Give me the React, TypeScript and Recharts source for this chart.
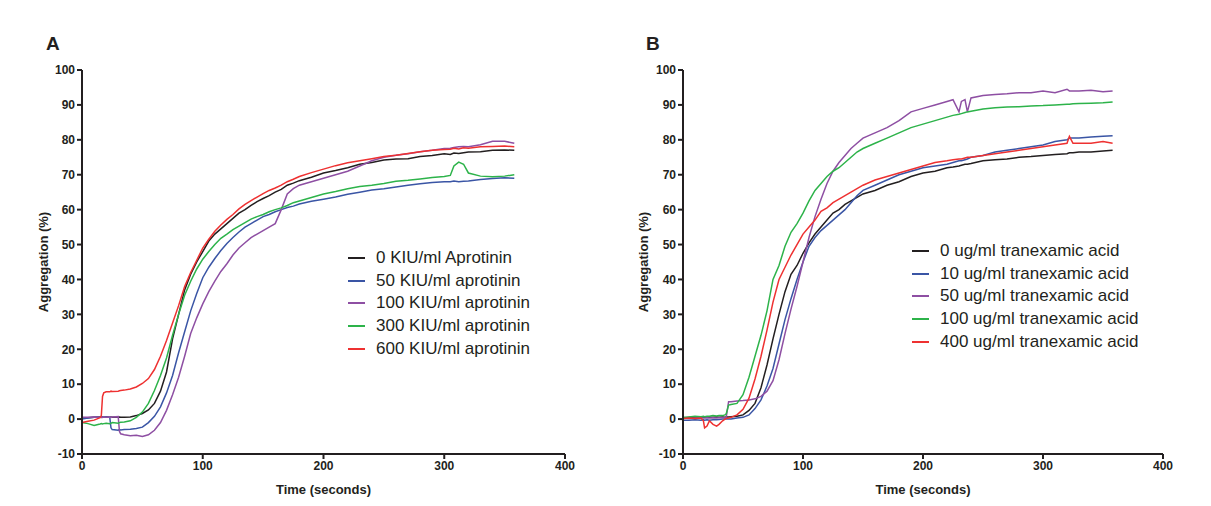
import { LineChart, Line, XAxis, YAxis, Legend } from 'recharts'

// panel A: time (s) and aggregation (%) for each aprotinin dose
const timeA = [
  0, 5, 10, 15, 16, 17, 18, 20,
  23, 24, 25, 30, 31, 32, 35, 40,
  45, 50, 55, 60, 65, 70, 75, 80,
  85, 90, 95, 100, 105, 110, 115, 120,
  125, 130, 135, 140, 145, 150, 155, 160,
  165, 170, 175, 180, 190, 200, 210, 220,
  230, 240, 250, 260, 270, 280, 290, 300,
  305, 308, 312, 316, 320, 330, 340, 350, 358,
]
const aprotinin0 = [
  0.3, 0.4, 0.5, 0.6, 0.5, 0.6, 0.5, 0.6,
  0.5, 0.6, 0.5, 0.5, 0.6, 0.5, 0.5, 0.6,
  1, 1.6, 2.6, 4.5, 8, 13.5, 23, 30,
  37, 41.5, 45, 48, 51, 53, 54.5, 56,
  57.5, 59, 60, 61.2, 62.3, 63.2, 64, 65,
  65.8, 67, 67.6, 68.3, 69.3, 70.5, 71.2, 72,
  73, 73.5, 74.2, 74.5, 74.6, 75.2, 75.5, 76,
  75.8, 76.2, 76.1, 76.3, 76.5, 76.6, 77, 77.1, 77,
]
const aprotinin50 = [
  0, 0.3, 0.5, 0.5, 0.5, 0.6, 0.5, 0.6,
  0.5, -2.5, -3, -3.2, -3, -3.1, -3, -2.9,
  -2.7, -2.3, -1, 0.8, 3.5, 7.5, 12.5, 19,
  25, 31, 36, 40.5, 43.5, 46, 48.3, 50.3,
  52, 53.6, 55, 56, 57, 58, 58.6, 59.4,
  60, 60.6, 61, 61.6, 62.4, 63, 63.6, 64.4,
  65, 65.6, 66, 66.5, 67, 67.4, 67.8, 68,
  68, 68.2, 68, 68.1, 68.2, 68.6, 68.9, 69.1, 69,
]
const aprotinin100 = [
  0.5, 0.5, 0.6, 0.5, 0.6, 0.5, 0.6, 0.5,
  0.6, 0.5, 0.6, 0.7, -3.5, -4.2, -4.5, -4.8,
  -4.6, -5, -4.5, -3.2, -1, 2.5, 7, 12,
  18, 24.5, 29, 33, 36.5, 39.5, 42.3, 44.5,
  47, 49, 50.5, 52, 53, 54, 55, 56,
  60, 64.5, 66, 67, 68, 69, 70, 71,
  72.5, 74, 75, 75.6, 76, 76.6, 77, 77.5,
  77.6, 77.8, 78, 78.1, 78, 78.6, 79.6, 79.6, 79,
]
const aprotinin300 = [
  -1, -1.3, -1.8, -1.4, -1.3, -1.4, -1.3, -1.2,
  -1.3, -1.2, -1, -1.2, -1, -0.9, -0.8, -0.5,
  0.5, 2, 4.5, 8.2, 12.5, 17.5, 24, 30,
  35.5, 39.5, 43, 45.8, 48, 50, 51.8, 53,
  54.3, 55.3, 56.3, 57.3, 58, 58.6, 59.4, 60,
  60.5, 61.2, 62, 62.5, 63.5, 64.5, 65.2, 66,
  66.6, 67, 67.5, 68.1, 68.4, 68.8, 69.2, 69.5,
  69.8, 72.5, 73.6, 73, 70.5, 69.6, 69.4, 69.6, 70,
]
const aprotinin600 = [
  -1, -0.6, -0.3, 0.4, 1, 6.5, 7.5, 7.8,
  7.8, 8, 7.9, 8, 8.1, 8.2, 8.3, 8.6,
  9.2, 10.2, 11.6, 14.2, 18, 22.5, 27.5, 32.5,
  38, 42, 45.5, 49, 51.5, 53.8, 55.6, 57.2,
  58.6, 60.2, 61.5, 62.6, 63.6, 64.6, 65.5, 66.2,
  67, 68, 68.7, 69.5, 70.6, 71.6, 72.6, 73.4,
  74, 74.6, 75.2, 75.6, 76.1, 76.6, 77, 77.2,
  77.3, 77.6, 77.4, 77.7, 77.6, 78, 78.1, 78.2, 78,
]

// panel B: time (s) and aggregation (%) for each tranexamic acid dose
const timeB = [
  0, 5, 10, 15, 17, 18, 20, 22,
  25, 28, 30, 33, 35, 36, 38, 40,
  45, 50, 55, 60, 65, 70, 75, 80,
  85, 90, 95, 100, 105, 110, 115, 120,
  125, 130, 135, 140, 145, 150, 160, 170,
  180, 190, 200, 210, 220, 225, 230, 232,
  235, 237, 240, 250, 260, 270, 280, 290,
  300, 310, 320, 322, 325, 330, 340, 350, 358,
]
const txa0 = [
  0.3, 0.5, 0.4, 0.6, 0.5, 0.5, 0.6, 0.5,
  0.5, 0.6, 0.5, 0.6, 0.5, 0.6, 0.6, 0.7,
  0.8, 1.2, 2.5, 4.5, 9, 15.5, 23, 30,
  36.5, 41.5, 44, 47.5, 50.5, 53, 55, 57,
  59, 60, 61.5, 62.5, 63.5, 64.5, 65.5, 67,
  68, 69.5, 70.5, 71, 72, 72.2, 72.5, 72.7,
  73, 73, 73.2, 74, 74.3, 74.5, 75, 75.2,
  75.5, 75.8, 76, 76.3, 76.3, 76.5, 76.5, 76.8, 77,
]
const txa10 = [
  -0.3, -0.3, -0.2, -0.3, -0.2, -0.3, -0.2, -0.3,
  -0.2, -0.2, -0.1, 0, 0, 0, 0, 0,
  0.3, 0.5, 1.2, 3, 5.5, 9.5, 14.5, 21.5,
  28.5, 34.5, 40, 45, 49.5, 52, 54, 55.5,
  57, 58.5, 60, 62, 64, 65.5, 67, 68.5,
  70, 71, 72, 72.5, 73, 73.5, 74, 74,
  74.3, 74.5, 75, 75.5, 76.5, 77, 77.5, 78,
  78.5, 79.5, 80, 80.5, 80.5, 80.5, 80.8, 81, 81.2,
]
const txa50 = [
  0.3, 0.2, 0.3, 0.4, 0.3, 0.3, 0.4, 0.3,
  0.4, 0.3, 0.4, 0.4, 0.4, 0.5, 5, 5,
  5.2, 5.3, 5.5, 5.8, 6.5, 8, 11, 17,
  24.5, 31.5, 38, 45, 52, 58, 63, 67.5,
  71, 73.5, 75.5, 77.5, 79, 80.5, 82, 83.5,
  85.5, 88, 89, 90, 91, 91.5, 88, 91,
  91.5, 88, 92, 92.7, 93, 93.2, 93.5, 93.5,
  94, 93.5, 94.5, 94, 94, 94, 94.2, 93.8, 94,
]
const txa100 = [
  0.5, 0.6, 0.8, 0.7, 0.8, 0.7, 0.8, 0.8,
  1, 0.9, 1, 1, 1.2, 1.5, 4, 4.2,
  4.5, 7, 12, 18, 24, 31, 40, 44,
  49.5, 53.5, 56, 59, 62.5, 65.5, 67.5, 69.5,
  71, 72, 73.5, 75, 76.5, 77.5, 79, 80.5,
  82, 83.5, 84.5, 85.5, 86.5, 87, 87.3, 87.5,
  87.8, 88, 88.2, 88.8, 89.2, 89.4, 89.5, 89.7,
  89.8, 90, 90.2, 90.2, 90.3, 90.4, 90.5, 90.6, 90.8,
]
const txa400 = [
  0.2, 0.3, 0.2, 0.3, -0.5, -2.5, -2, -0.5,
  -1.5, -2, -1.5, -0.5, 0, 0.2, 0.3, 0.5,
  1.2, 2.8, 6, 11.5, 18, 25.5, 33.5, 40,
  43.5, 47, 50, 53, 55, 57, 59.5, 60.5,
  62, 63, 64, 65, 66, 67, 68.5, 69.5,
  70.5, 71.5, 72.5, 73.5, 74, 74.3, 74.5, 74.5,
  74.8, 75, 75, 75.5, 76, 76.5, 77, 77.5,
  78, 78.5, 79, 81, 79, 79, 79, 79.5, 79,
]

const xTicks = [0, 100, 200, 300, 400]
const yTicks = [-10, 0, 10, 20, 30, 40, 50, 60, 70, 80, 90, 100]

const INK = '#231f20'
const FONT = '"Liberation Sans", Arial, sans-serif'
const COLORS = ['#231f20', '#3a55a5', '#8e4fa3', '#2db34a', '#ee3131']

const seriesA = [
  { key: 'a0', name: '0 KIU/ml Aprotinin', values: aprotinin0 },
  { key: 'a50', name: '50 KIU/ml aprotinin', values: aprotinin50 },
  { key: 'a100', name: '100 KIU/ml aprotinin', values: aprotinin100 },
  { key: 'a300', name: '300 KIU/ml aprotinin', values: aprotinin300 },
  { key: 'a600', name: '600 KIU/ml aprotinin', values: aprotinin600 },
]
const seriesB = [
  { key: 'b0', name: '0 ug/ml tranexamic acid', values: txa0 },
  { key: 'b10', name: '10 ug/ml tranexamic acid', values: txa10 },
  { key: 'b50', name: '50 ug/ml tranexamic acid', values: txa50 },
  { key: 'b100', name: '100 ug/ml tranexamic acid', values: txa100 },
  { key: 'b400', name: '400 ug/ml tranexamic acid', values: txa400 },
]

type Series = { key: string; name: string; values: number[] }

function buildRows(times: number[], series: Series[]) {
  return times.map((t, i) => {
    const row: Record<string, number> = { t }
    series.forEach(s => { row[s.key] = s.values[i] })
    return row
  })
}

const tickStyle = { fontSize: 12, fontWeight: 700, fill: INK, fontFamily: FONT }
const axisLine = { stroke: INK, strokeWidth: 2 }

// legend rows in the series order, not alphabetical
function LegendBox({ series }: { series: Series[] }) {
  return (
    <div style={{ fontFamily: FONT, fontSize: 17, color: INK }}>
      {series.map((s, i) => (
        <div key={s.key} style={{ display: 'flex', alignItems: 'center', height: 22.6, whiteSpace: 'nowrap' }}>
          <span style={{ display: 'inline-block', width: 17, height: 2, background: COLORS[i], marginRight: 11 }} />
          <span>{s.name}</span>
        </div>
      ))}
    </div>
  )
}

function Panel({ letter, series, times, width, rightMargin, yWidth, legendLeft, legendTop }: {
  letter: string
  series: Series[]
  times: number[]
  width: number
  rightMargin: number
  yWidth: number
  legendLeft: number
  legendTop: number
}) {
  const rows = buildRows(times, series)
  return (
    <div style={{ position: 'relative', width, height: 506 }}>
      <div style={{
        position: 'absolute', left: 46, top: 34, fontSize: 19, lineHeight: '19px', fontWeight: 700,
        color: INK, fontFamily: FONT,
      }}>{letter}</div>
      <LineChart width={width} height={506} data={rows} margin={{ top: 70, right: rightMargin, bottom: 0, left: 0 }}>
        <XAxis
          dataKey="t"
          type="number"
          domain={[0, 400]}
          ticks={xTicks}
          tick={tickStyle}
          axisLine={axisLine}
          tickLine={axisLine}
          tickSize={5}
          height={52}
          label={{
            content: ({ viewBox }: any) => (
              <text
                x={viewBox.x + viewBox.width / 2}
                y={494}
                textAnchor="middle"
                fontSize={13}
                fontWeight={700}
                fill={INK}
                fontFamily={FONT}
              >Time (seconds)</text>
            ),
          }}
        />
        <YAxis
          type="number"
          domain={[-10, 100]}
          ticks={yTicks}
          tick={tickStyle}
          axisLine={axisLine}
          tickLine={axisLine}
          tickSize={5}
          width={yWidth}
          interval={0}
          label={{
            content: ({ viewBox }: any) => {
              const cx = 48
              const cy = viewBox.y + viewBox.height / 2
              return (
                <text
                  x={cx}
                  y={cy}
                  transform={`rotate(-90 ${cx} ${cy})`}
                  textAnchor="middle"
                  fontSize={13}
                  fontWeight={700}
                  fill={INK}
                  fontFamily={FONT}
                >Aggregation (%)</text>
              )
            },
          }}
        />
        {series.map((s, i) => (
          <Line
            key={s.key}
            dataKey={s.key}
            name={s.name}
            type="linear"
            stroke={COLORS[i]}
            strokeWidth={1.5}
            dot={false}
            isAnimationActive={false}
          />
        ))}
        <Legend
          layout="vertical"
          align="center"
          verticalAlign="middle"
          content={<LegendBox series={series} />}
          wrapperStyle={{ left: legendLeft, top: legendTop, width: 'auto', height: 'auto', bottom: 'auto' }}
        />
      </LineChart>
    </div>
  )
}

export default function App() {
  return (
    <div style={{ position: 'absolute', left: 0, top: 0, width: 1211, height: 506, background: '#fff', display: 'flex' }}>
      <Panel letter="A" series={seriesA} times={timeA} width={600} rightMargin={35} yWidth={82} legendLeft={348} legendTop={247} />
      <Panel letter="B" series={seriesB} times={timeB} width={611} rightMargin={48} yWidth={83} legendLeft={312} legendTop={240} />
    </div>
  )
}
